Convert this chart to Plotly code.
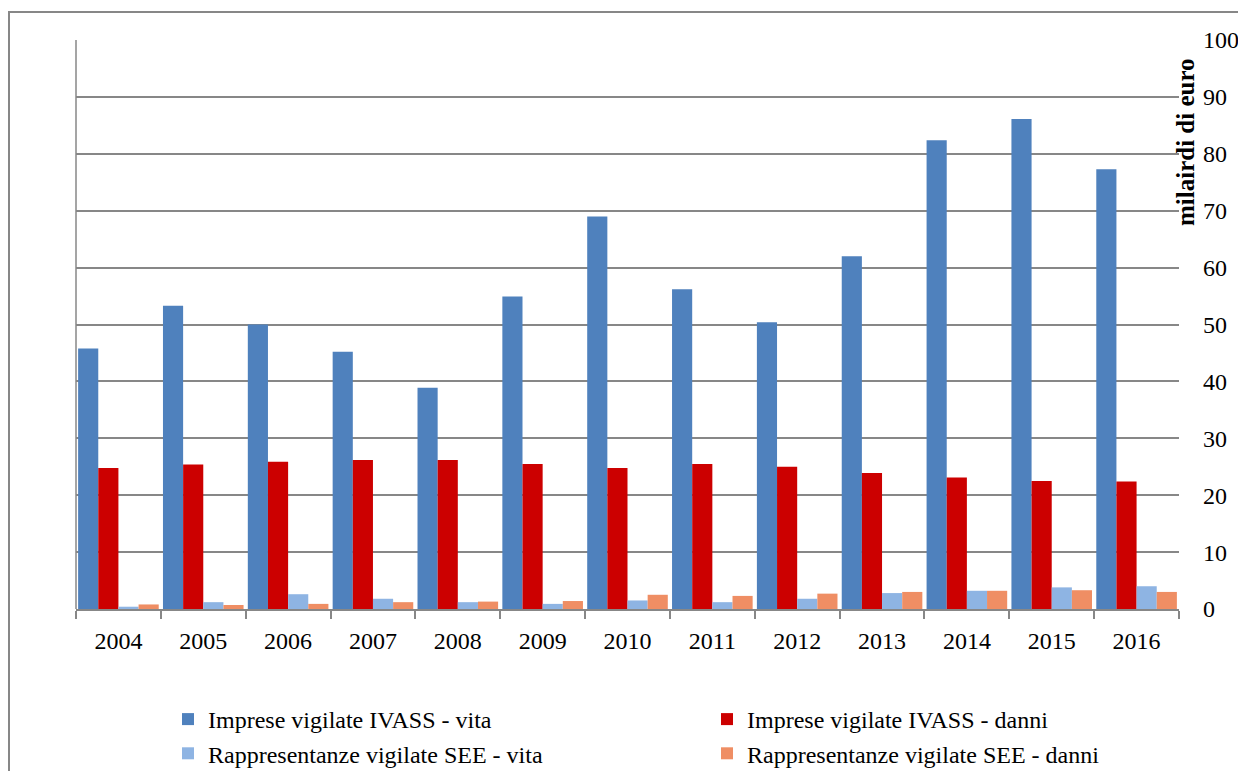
import plotly.graph_objects as go

years = ["2004", "2005", "2006", "2007", "2008", "2009", "2010",
         "2011", "2012", "2013", "2014", "2015", "2016"]
ivass_vita = [45.8, 53.3, 50.0, 45.2, 38.9, 54.9, 69.0, 56.2, 50.4, 62.0, 82.4, 86.1, 77.3]
ivass_danni = [24.8, 25.4, 25.9, 26.2, 26.2, 25.5, 24.8, 25.5, 25.0, 23.9, 23.1, 22.5, 22.4]
see_vita = [0.4, 1.2, 2.6, 1.8, 1.2, 0.9, 1.5, 1.2, 1.8, 2.8, 3.2, 3.8, 4.0]
see_danni = [0.8, 0.7, 0.9, 1.2, 1.3, 1.4, 2.5, 2.3, 2.7, 3.0, 3.2, 3.3, 3.0]

series = [
    ("Imprese vigilate IVASS - vita", ivass_vita, "#4F81BD"),
    ("Imprese vigilate IVASS - danni", ivass_danni, "#CC0000"),
    ("Rappresentanze vigilate SEE - vita", see_vita, "#8EB4E3"),
    ("Rappresentanze vigilate SEE - danni", see_danni, "#EF8E64"),
]

FONT = "Liberation Serif"
GRAY = "#878787"

fig = go.Figure()
for name, vals, col in series:
    fig.add_trace(go.Bar(x=years, y=vals, name=name,
                         marker=dict(color=col, line=dict(width=0))))

OFF = 8  # page body margin
W, H = 1246 - OFF, 771 - OFF
# plot area in page pixels: x 76..1179, y 40..609
L = 76 - OFF
T = 40 - OFF
R = W - (1179 - OFF)
B = H - (609 - OFF)
pw, ph = W - L - R, H - T - B

def px_x(p):  # page pixel -> paper
    return (p - OFF - L) / pw

def px_y(p):
    return (H - B - (p - OFF)) / ph

fig.update_layout(
    width=W, height=H,
    margin=dict(l=L, r=R, t=T, b=B, autoexpand=False),
    paper_bgcolor="white", plot_bgcolor="white",
    font=dict(family=FONT, size=24, color="black"),
    barmode="group", bargap=0.05, bargroupgap=0,
    showlegend=True,
    legend=dict(orientation="h", x=px_x(168), y=px_y(697),
                xanchor="left", yanchor="top",
                entrywidth=494, entrywidthmode="pixels",
                font=dict(family=FONT, size=24, color="black"),
                tracegroupgap=0, itemclick=False, bgcolor="rgba(0,0,0,0)"),
    xaxis=dict(showline=True, linecolor=GRAY, linewidth=1.5,
               ticks="outside", tickson="boundaries", ticklen=8,
               tickcolor=GRAY, tickwidth=1.5, showgrid=False,
               ticklabelstandoff=9,
               tickfont=dict(family=FONT, size=24, color="black")),
    yaxis=dict(side="right", range=[0, 100], dtick=10,
               showline=False, ticks="", zeroline=False,
               showgrid=True, gridcolor=GRAY, gridwidth=1.5,
               ticklabelstandoff=23,
               tickfont=dict(family=FONT, size=24, color="black")),
    shapes=[
        dict(type="line", xref="paper", yref="paper", x0=0, x1=0, y0=0, y1=1,
             line=dict(color=GRAY, width=1.5)),
        dict(type="rect", xref="paper", yref="paper",
             x0=px_x(9), x1=px_x(1290), y0=px_y(820), y1=px_y(12),
             line=dict(color=GRAY, width=2), layer="below"),
    ],
    annotations=[
        dict(text="<b>milairdi di euro</b>", xref="paper", yref="paper",
             x=px_x(1185), y=px_y(142), textangle=-90, showarrow=False,
             xanchor="center", yanchor="middle",
             font=dict(family=FONT, size=25, color="black")),
    ],
)

fig.write_html("out.html")
